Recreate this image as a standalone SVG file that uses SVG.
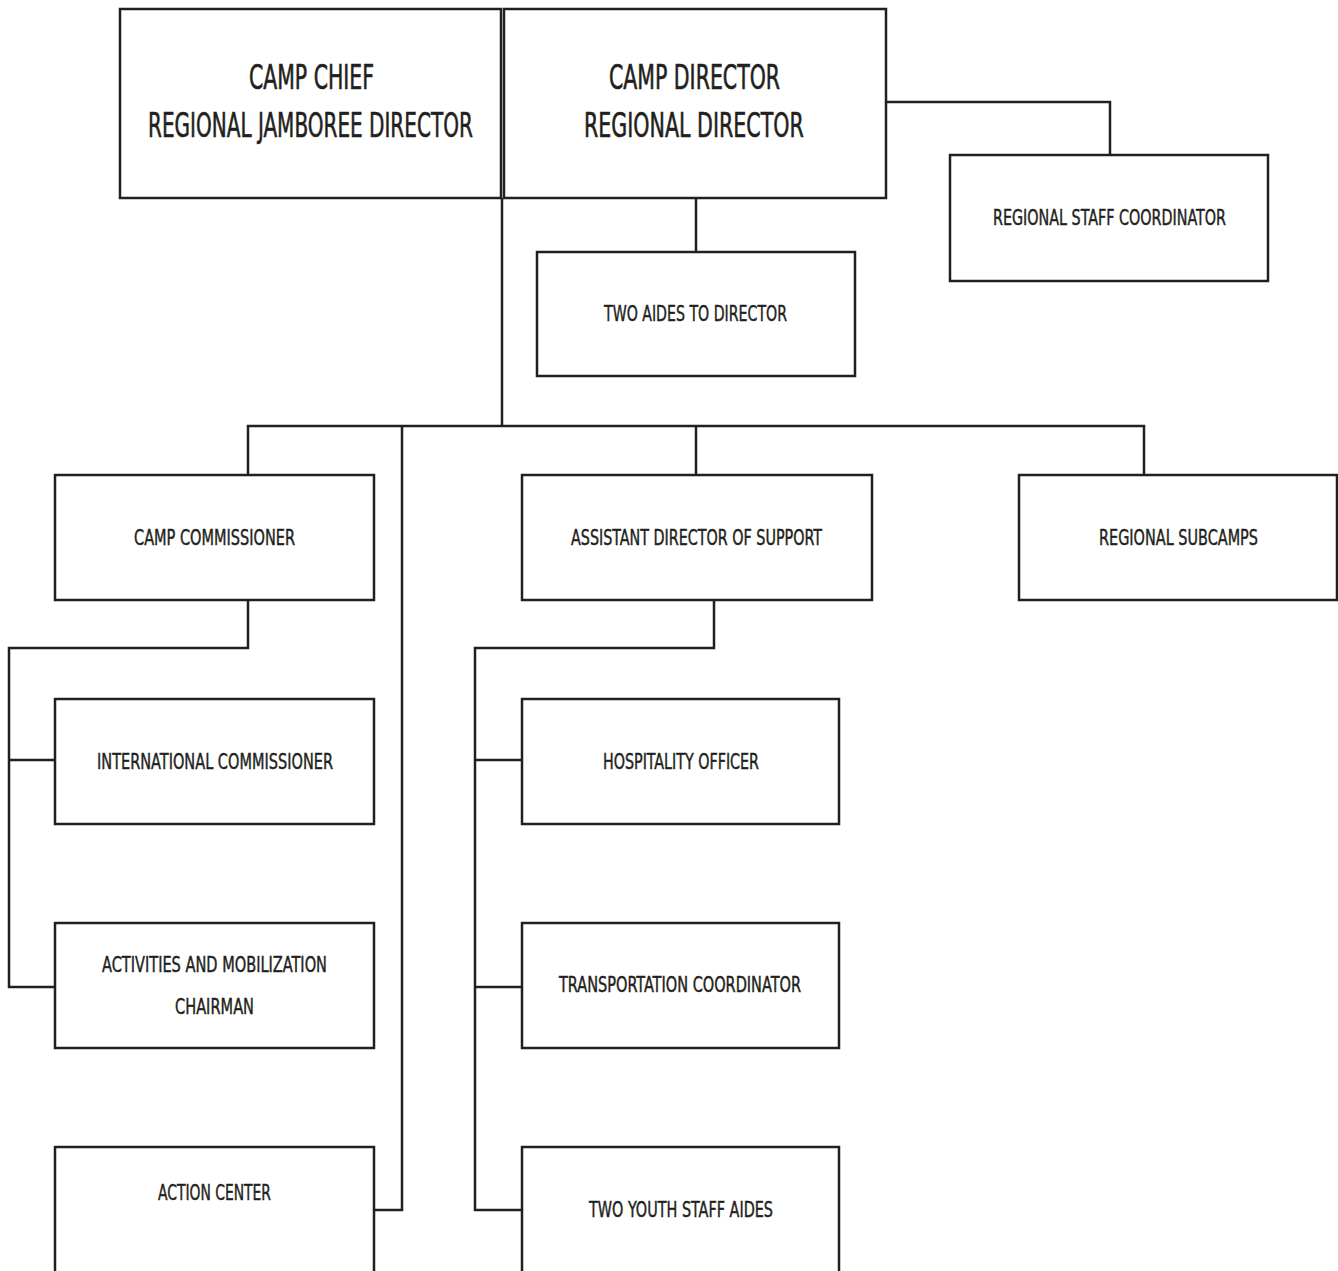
<svg xmlns="http://www.w3.org/2000/svg" width="1338" height="1271" viewBox="0 0 1338 1271">
<style>
.box{fill:#ffffff;stroke:#231f20;stroke-width:2.5}
.c{fill:none;stroke:#231f20;stroke-width:2.5}
.t{font-family:"DejaVu Sans Condensed","Liberation Sans",Arial,sans-serif;font-stretch:condensed;fill:#231f20;stroke:#231f20;stroke-width:0.45;font-size:22px}
.h{font-family:"DejaVu Sans Condensed","Liberation Sans",Arial,sans-serif;font-stretch:condensed;fill:#231f20;stroke:#231f20;stroke-width:0.6;font-size:33px}
</style>
<rect width="1338" height="1271" fill="#ffffff"/>
<g id="connectors">
<path class="c" d="M502 198 V426"/>
<path class="c" d="M886 102 H1110 V155"/>
<path class="c" d="M696 198 V252"/>
<path class="c" d="M248 475 V426 H1144 V475"/>
<path class="c" d="M696 426 V475"/>
<path class="c" d="M402 426 V1210 H374"/>
<path class="c" d="M248 600 V648 H9 V987 H55"/>
<path class="c" d="M9 760 H55"/>
<path class="c" d="M714 600 V648 H475 V1210 H522"/>
<path class="c" d="M475 760 H522"/>
<path class="c" d="M475 987 H522"/>
</g>
<g id="camp-chief">
<rect class="box" x="120" y="9" width="381" height="189"/>
<text class="h" x="249" y="89" textLength="125" lengthAdjust="spacingAndGlyphs">CAMP CHIEF</text>
<text class="h" transform="translate(148 137) scale(0.7 1)" x="0" y="0" textLength="464" lengthAdjust="spacingAndGlyphs">REGIONAL JAMBOREE DIRECTOR</text>
</g>
<g id="camp-director">
<rect class="box" x="504" y="9" width="382" height="189"/>
<text class="h" x="609" y="89" textLength="171" lengthAdjust="spacingAndGlyphs">CAMP DIRECTOR</text>
<text class="h" transform="translate(584 137) scale(0.7 1)" x="0" y="0" textLength="314" lengthAdjust="spacingAndGlyphs">REGIONAL DIRECTOR</text>
</g>
<g id="regional-staff-coordinator">
<rect class="box" x="950" y="155" width="318" height="126"/>
<text class="t" x="993" y="225" textLength="233" lengthAdjust="spacingAndGlyphs">REGIONAL STAFF COORDINATOR</text>
</g>
<g id="two-aides">
<rect class="box" x="537" y="252" width="318" height="124"/>
<text class="t" x="604" y="321" textLength="183" lengthAdjust="spacingAndGlyphs">TWO AIDES TO DIRECTOR</text>
</g>
<g id="camp-commissioner">
<rect class="box" x="55" y="475" width="319" height="125"/>
<text class="t" x="134" y="545" textLength="161" lengthAdjust="spacingAndGlyphs">CAMP COMMISSIONER</text>
</g>
<g id="assistant-director">
<rect class="box" x="522" y="475" width="350" height="125"/>
<text class="t" x="571" y="545" textLength="251" lengthAdjust="spacingAndGlyphs">ASSISTANT DIRECTOR OF SUPPORT</text>
</g>
<g id="regional-subcamps">
<rect class="box" x="1019" y="475" width="318" height="125"/>
<text class="t" x="1099" y="545" textLength="159" lengthAdjust="spacingAndGlyphs">REGIONAL SUBCAMPS</text>
</g>
<g id="international-commissioner">
<rect class="box" x="55" y="699" width="319" height="125"/>
<text class="t" x="97" y="769" textLength="236" lengthAdjust="spacingAndGlyphs">INTERNATIONAL COMMISSIONER</text>
</g>
<g id="activities">
<rect class="box" x="55" y="923" width="319" height="125"/>
<text class="t" x="102" y="972" textLength="225" lengthAdjust="spacingAndGlyphs">ACTIVITIES AND MOBILIZATION</text>
<text class="t" x="175" y="1014" textLength="79" lengthAdjust="spacingAndGlyphs">CHAIRMAN</text>
</g>
<g id="action-center">
<rect class="box" x="55" y="1147" width="319" height="140"/>
<text class="t" x="158" y="1200" textLength="113" lengthAdjust="spacingAndGlyphs">ACTION CENTER</text>
</g>
<g id="hospitality">
<rect class="box" x="522" y="699" width="317" height="125"/>
<text class="t" x="603" y="769" textLength="156" lengthAdjust="spacingAndGlyphs">HOSPITALITY OFFICER</text>
</g>
<g id="transportation">
<rect class="box" x="522" y="923" width="317" height="125"/>
<text class="t" x="559" y="992" textLength="242" lengthAdjust="spacingAndGlyphs">TRANSPORTATION COORDINATOR</text>
</g>
<g id="youth-aides">
<rect class="box" x="522" y="1147" width="317" height="140"/>
<text class="t" x="589" y="1217" textLength="184" lengthAdjust="spacingAndGlyphs">TWO YOUTH STAFF AIDES</text>
</g>
</svg>
